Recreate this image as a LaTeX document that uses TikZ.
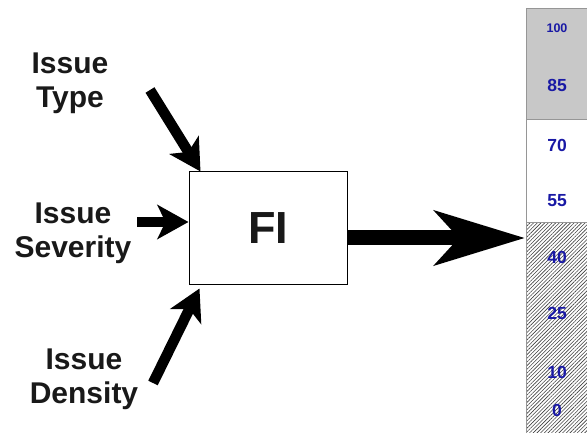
\documentclass[tikz,border=0pt]{standalone}
\usepackage{fontspec}
\setmainfont{Liberation Sans}
\usetikzlibrary{arrows.meta,patterns.meta}
\definecolor{scaleblue}{RGB}{25,25,165}
\definecolor{bandgray}{RGB}{200,200,200}
\definecolor{bandline}{RGB}{150,150,150}

\begin{document}
\begin{tikzpicture}[x=1pt,y=-1pt,
    inputtext/.style={align=center, font=\bfseries\fontsize{30}{34}\selectfont, text=black!90},
    feed/.style={line width=10.5pt, -{Stealth[length=31pt,width=34pt,inset=8pt]}},
    scaleval/.style={text=scaleblue, font=\bfseries\fontsize{17.5}{17.5}\selectfont}]
    \useasboundingbox (0,0) rectangle (587,433);

    % Scale bar
    \fill[bandgray] (526,9) rectangle (587,120);
    \fill[pattern={Lines[angle=45,distance=2.6pt,line width=0.6pt]}, pattern color=black!75] (526,223) rectangle (587,433);
    \draw[bandline, line width=1pt] (587,9) -- (526,9) -- (526,433);
    \draw[bandline, line width=1pt] (526,120) -- (587,120);
    \draw[bandline, line width=1pt] (526,223) -- (587,223);

    % Scale values
    \node[scaleval, font=\bfseries\fontsize{12.5}{12.5}\selectfont] (v100) at (557,28) {100};
    \foreach \val/\ypos in {85/85, 70/145, 55/201, 40/257, 25/313, 10/372, 0/410}
        \node[scaleval] (v\val) at (557,\ypos) {\val};

    % Factor box
    \node[draw, line width=1pt, minimum width=158pt, minimum height=112pt,
          font=\bfseries\fontsize{45}{45}\selectfont, text=black!90] (fi) at (268,228) {FI};

    % Inputs
    \node[inputtext] (type) at (70,83) {Issue\\Type};
    \node[inputtext] (severity) at (73,233) {Issue\\Severity};
    \node[inputtext] (density) at (84,379) {Issue\\Density};

    \coordinate (typetail) at (150,90);
    \coordinate (severitytail) at (137,222);
    \coordinate (densitytail) at (153,383);
    \coordinate (typetip) at ([xshift=12pt]fi.north west);
    \coordinate (severitytip) at ([yshift=6pt]fi.west);
    \coordinate (densitytip) at ([xshift=11pt,yshift=-4pt]fi.south west);

    \draw[feed] (typetail) -- (typetip);
    \draw[feed] (severitytail) -- (severitytip);
    \draw[feed] (densitytail) -- (densitytip);

    % Output
    \coordinate (fiout) at ([yshift=-10pt]fi.east);
    \coordinate (scalein) at (525,238);
    \draw[line width=15pt, -{Stealth[length=90pt,width=54pt,inset=24pt]}] (fiout) -- (scalein);
\end{tikzpicture}
\end{document}
